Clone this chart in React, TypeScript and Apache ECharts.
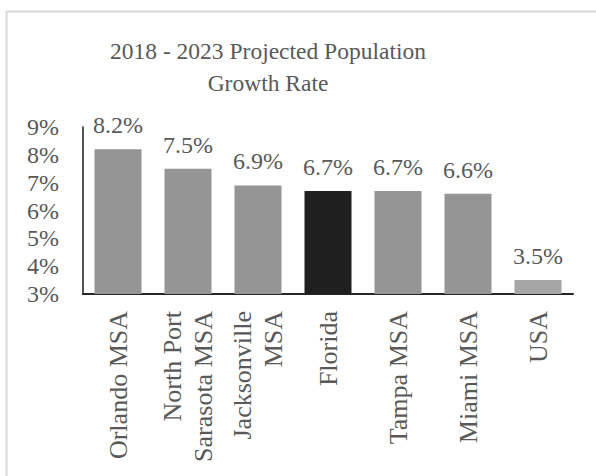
import React, { useEffect, useRef } from "react";
import * as echarts from "echarts";

const categories = [
  "Orlando MSA",
  "North Port\nSarasota MSA",
  "Jacksonville\nMSA",
  "Florida",
  "Tampa MSA",
  "Miami MSA",
  "USA",
];
const values = [8.2, 7.5, 6.9, 6.7, 6.7, 6.6, 3.5];
const barColors = ["#959595", "#959595", "#959595", "#1f1f1f", "#959595", "#959595", "#a6a6a6"];
const titleLines = ["2018 - 2023 Projected Population", "Growth Rate"];

const FONT = "'Liberation Serif', 'Times New Roman', serif";
const TXT = "#595959";

export default function App() {
  const ref = useRef<HTMLDivElement>(null);
  useEffect(() => {
    const chart = echarts.init(ref.current!, null, { renderer: "svg" });
    chart.setOption({
      animation: false,
      backgroundColor: "#ffffff",
      graphic: [
        {
          type: "rect",
          shape: { x: 6.5, y: 11.5, width: 620, height: 500 },
          style: { fill: "none", stroke: "#d9d9d9", lineWidth: 2 },
          silent: true,
        },
        {
          type: "text",
          x: 268,
          y: 35,
          style: {
            text: titleLines.join("\n"),
            fill: TXT,
            font: `23.5px ${FONT}`,
            textAlign: "center",
            textVerticalAlign: "top",
            lineHeight: 32,
          },
        },
      ],
      grid: { left: 83, right: 23, top: 127, bottom: 182, containLabel: false },
      xAxis: {
        type: "category",
        data: categories,
        axisLine: { show: true, lineStyle: { color: "#262626", width: 2 } },
        axisTick: { show: false },
        axisLabel: {
          rotate: 90,
          margin: 17,
          color: TXT,
          fontFamily: FONT,
          fontSize: 26,
          lineHeight: 31,
          interval: 0,
        },
      },
      yAxis: {
        type: "value",
        min: 3,
        max: 9,
        interval: 1,
        splitLine: { show: false },
        axisLine: { show: true, lineStyle: { color: "#1a1a1a", width: 1.5 } },
        axisTick: { show: false },
        axisLabel: {
          formatter: (v: number) => `${v}%`,
          color: TXT,
          fontFamily: FONT,
          fontSize: 24,
          margin: 24,
        },
      },
      series: [
        {
          type: "bar",
          data: values.map((v, i) => ({ value: v, itemStyle: { color: barColors[i] } })),
          barWidth: 47,
          label: {
            show: true,
            position: "top",
            distance: 12,
            formatter: (p: any) => `${p.value.toFixed(1)}%`,
            color: TXT,
            fontFamily: FONT,
            fontSize: 24,
          },
        },
      ],
    });
    return () => chart.dispose();
  }, []);
  return (
    <div
      ref={ref}
      style={{ position: "fixed", left: 0, top: 0, width: 596, height: 476 }}
    />
  );
}
